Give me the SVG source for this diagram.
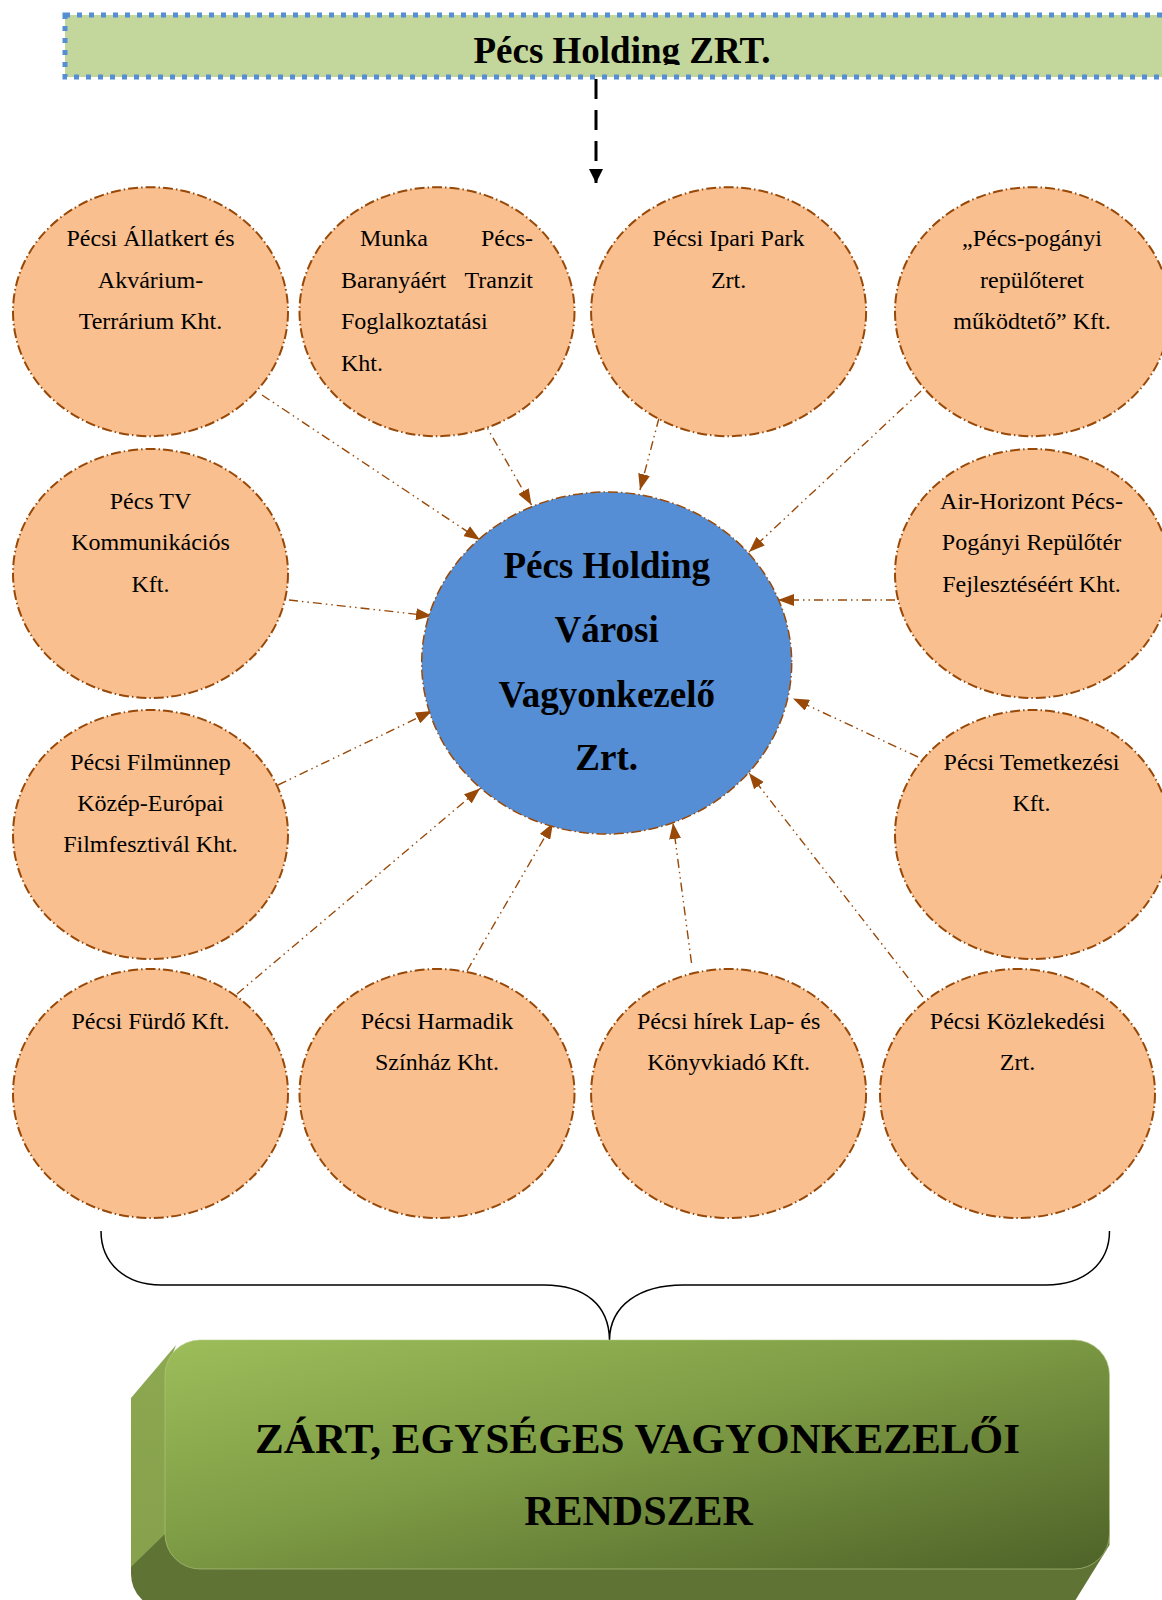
<svg xmlns="http://www.w3.org/2000/svg" width="1162" height="1600" viewBox="0 0 1162 1600">
<defs>
<style>
.node{fill:#F9BF8F;stroke:#984807;stroke-width:2;stroke-dasharray:10 3 1.5 3}
.t{font-family:"Liberation Serif","Times New Roman",serif;font-size:24px;fill:#000}
.c{text-anchor:middle}
.b{font-family:"Liberation Serif","Times New Roman",serif;font-weight:bold;fill:#000;text-anchor:middle}
.conn{stroke:#984807;stroke-width:1.4;fill:none;stroke-dasharray:9 4 1.5 4 1.5 4}
</style>
<marker id="ah" viewBox="0 0 16 12" refX="16" refY="6" markerWidth="16" markerHeight="12" markerUnits="userSpaceOnUse" orient="auto">
<path d="M0,0 L16,6 L0,12 z" fill="#984807"/>
</marker>
<marker id="ahk" viewBox="0 0 14 15" refX="14" refY="7" markerWidth="14" markerHeight="15" markerUnits="userSpaceOnUse" orient="auto">
<path d="M0,0 L14,7 L0,14 z" fill="#000"/>
</marker>
<linearGradient id="gfront" x1="0" y1="0" x2="1" y2="1">
<stop offset="0" stop-color="#9DBD5A"/>
<stop offset="0.45" stop-color="#7E9C45"/>
<stop offset="1" stop-color="#4E6228"/>
</linearGradient>
<linearGradient id="gleft" x1="0" y1="0" x2="0" y2="1">
<stop offset="0" stop-color="#8CA850"/>
<stop offset="1" stop-color="#87A04C"/>
</linearGradient>
<clipPath id="topclip"><rect x="60" y="10" width="1110" height="55"/></clipPath>
</defs>

<g id="top-bar">
<rect x="65" y="15" width="1110" height="62" fill="#C3D69B" stroke="#558ED5" stroke-width="5" stroke-dasharray="5 7"/>
<text class="b" x="622" y="63" font-size="37" clip-path="url(#topclip)">Pécs Holding ZRT.</text>
</g>

<g id="connectors">
<line x1="596" y1="79" x2="596" y2="183" stroke="#000" stroke-width="3" stroke-dasharray="20 11" marker-end="url(#ahk)"/>
<line class="conn" x1="262" y1="395" x2="480" y2="540" marker-end="url(#ah)"/>
<line class="conn" x1="481" y1="417" x2="531.5" y2="505" marker-end="url(#ah)"/>
<line class="conn" x1="659" y1="418" x2="640" y2="490" marker-end="url(#ah)"/>
<line class="conn" x1="921" y1="391" x2="749" y2="552" marker-end="url(#ah)"/>
<line class="conn" x1="289" y1="600" x2="432" y2="616" marker-end="url(#ah)"/>
<line class="conn" x1="895" y1="600" x2="778" y2="600" marker-end="url(#ah)"/>
<line class="conn" x1="278" y1="785" x2="432" y2="711" marker-end="url(#ah)"/>
<line class="conn" x1="918" y1="757" x2="793" y2="698.5" marker-end="url(#ah)"/>
<line class="conn" x1="237" y1="994" x2="480" y2="788.5" marker-end="url(#ah)"/>
<line class="conn" x1="467" y1="971" x2="553" y2="823" marker-end="url(#ah)"/>
<line class="conn" x1="691.5" y1="963" x2="673" y2="823" marker-end="url(#ah)"/>
<line class="conn" x1="923" y1="997" x2="749" y2="773" marker-end="url(#ah)"/>
</g>

<g id="n-allatkert">
<ellipse class="node" cx="150.5" cy="311.7" rx="137.5" ry="124.5"/>
<text class="t c" x="150.5" y="246">Pécsi Állatkert és</text>
<text class="t c" x="150.5" y="287.5">Akvárium-</text>
<text class="t c" x="150.5" y="329">Terrárium Kht.</text>
</g>

<g id="n-munka">
<ellipse class="node" cx="437" cy="311.7" rx="137.5" ry="124.5"/>
<text class="t" x="360" y="246">Munka</text>
<text class="t" x="533" y="246" text-anchor="end">Pécs-</text>
<text class="t" x="341" y="287.5">Baranyáért</text>
<text class="t" x="533" y="287.5" text-anchor="end">Tranzit</text>
<text class="t" x="341" y="329">Foglalkoztatási</text>
<text class="t" x="341" y="370.5">Kht.</text>
</g>

<g id="n-ipari">
<ellipse class="node" cx="728.6" cy="311.7" rx="137.5" ry="124.5"/>
<text class="t c" x="728.6" y="246">Pécsi Ipari Park</text>
<text class="t c" x="728.6" y="287.5">Zrt.</text>
</g>

<g id="n-pogany">
<ellipse class="node" cx="1032.5" cy="311.7" rx="137.5" ry="124.5"/>
<text class="t c" x="1032" y="246">„Pécs-pogányi</text>
<text class="t c" x="1032" y="287.5">repülőteret</text>
<text class="t c" x="1032" y="329">működtető” Kft.</text>
</g>

<g id="n-pecstv">
<ellipse class="node" cx="150.5" cy="573.5" rx="137.5" ry="124.5"/>
<text class="t c" x="150.5" y="508.5">Pécs TV</text>
<text class="t c" x="150.5" y="550">Kommunikációs</text>
<text class="t c" x="150.5" y="591.5">Kft.</text>
</g>

<g id="n-airhorizont">
<ellipse class="node" cx="1032.5" cy="573.5" rx="137.5" ry="124.5"/>
<text class="t c" x="1031.5" y="508.5">Air-Horizont Pécs-</text>
<text class="t c" x="1031.5" y="550">Pogányi Repülőtér</text>
<text class="t c" x="1031.5" y="591.5">Fejlesztéséért Kht.</text>
</g>

<g id="n-filmunnep">
<ellipse class="node" cx="150.5" cy="834.5" rx="137.5" ry="124.5"/>
<text class="t c" x="150.5" y="770">Pécsi Filmünnep</text>
<text class="t c" x="150.5" y="811">Közép-Európai</text>
<text class="t c" x="150.5" y="852">Filmfesztivál Kht.</text>
</g>

<g id="n-temetkezesi">
<ellipse class="node" cx="1032.5" cy="834.5" rx="137.5" ry="124.5"/>
<text class="t c" x="1031.5" y="770">Pécsi Temetkezési</text>
<text class="t c" x="1031.5" y="811">Kft.</text>
</g>

<g id="n-furdo">
<ellipse class="node" cx="150.5" cy="1093.5" rx="137.5" ry="124.5"/>
<text class="t c" x="150.5" y="1028.5">Pécsi Fürdő Kft.</text>
</g>

<g id="n-harmadik">
<ellipse class="node" cx="437" cy="1093.5" rx="137.5" ry="124.5"/>
<text class="t c" x="437" y="1028.5">Pécsi Harmadik</text>
<text class="t c" x="437" y="1070">Színház Kht.</text>
</g>

<g id="n-hirek">
<ellipse class="node" cx="728.6" cy="1093.5" rx="137.5" ry="124.5"/>
<text class="t c" x="728.6" y="1028.5">Pécsi hírek Lap- és</text>
<text class="t c" x="728.6" y="1070">Könyvkiadó Kft.</text>
</g>

<g id="n-kozlekedesi">
<ellipse class="node" cx="1017.5" cy="1093.5" rx="137.5" ry="124.5"/>
<text class="t c" x="1017.5" y="1028.5">Pécsi Közlekedési</text>
<text class="t c" x="1017.5" y="1070">Zrt.</text>
</g>

<g id="n-center">
<ellipse cx="606.7" cy="663" rx="185" ry="171" fill="#558ED5" stroke="#984807" stroke-width="1.5" stroke-dasharray="10 3 1.5 3"/>
<text class="b" x="606.7" y="578" font-size="37">Pécs Holding</text>
<text class="b" x="606.7" y="642" font-size="37">Városi</text>
<text class="b" x="606.7" y="707" font-size="37">Vagyonkezelő</text>
<text class="b" x="606.7" y="770" font-size="37">Zrt.</text>
</g>

<g id="brace">
<path d="M101,1231 C101,1263 125,1285 161,1285 L544,1285 C585,1285 609,1305 609.5,1340 C610,1305 640,1285 683,1285 L1046,1285 C1085,1285 1109.5,1263 1109.5,1231" fill="none" stroke="#000" stroke-width="1.5"/>
</g>

<g id="n-system">
<rect x="131" y="1380" width="944.5" height="229" rx="35" fill="#5F7335"/>
<polygon points="1109.5,1520 1109.5,1545 1075.5,1600 1030,1600 1030,1560" fill="#5F7335"/>
<path d="M176,1345 L131,1398 L131,1567 L166,1533 L166,1372 Z" fill="url(#gleft)"/>
<rect x="165" y="1340" width="944.5" height="229" rx="35" fill="url(#gfront)" stroke="#B5CB86" stroke-width="1" stroke-opacity="0.6"/>
<text class="b" x="637.5" y="1453" font-size="42" textLength="765" lengthAdjust="spacingAndGlyphs">ZÁRT, EGYSÉGES VAGYONKEZELŐI</text>
<text class="b" x="638.5" y="1525" font-size="42">RENDSZER</text>
</g>
</svg>
